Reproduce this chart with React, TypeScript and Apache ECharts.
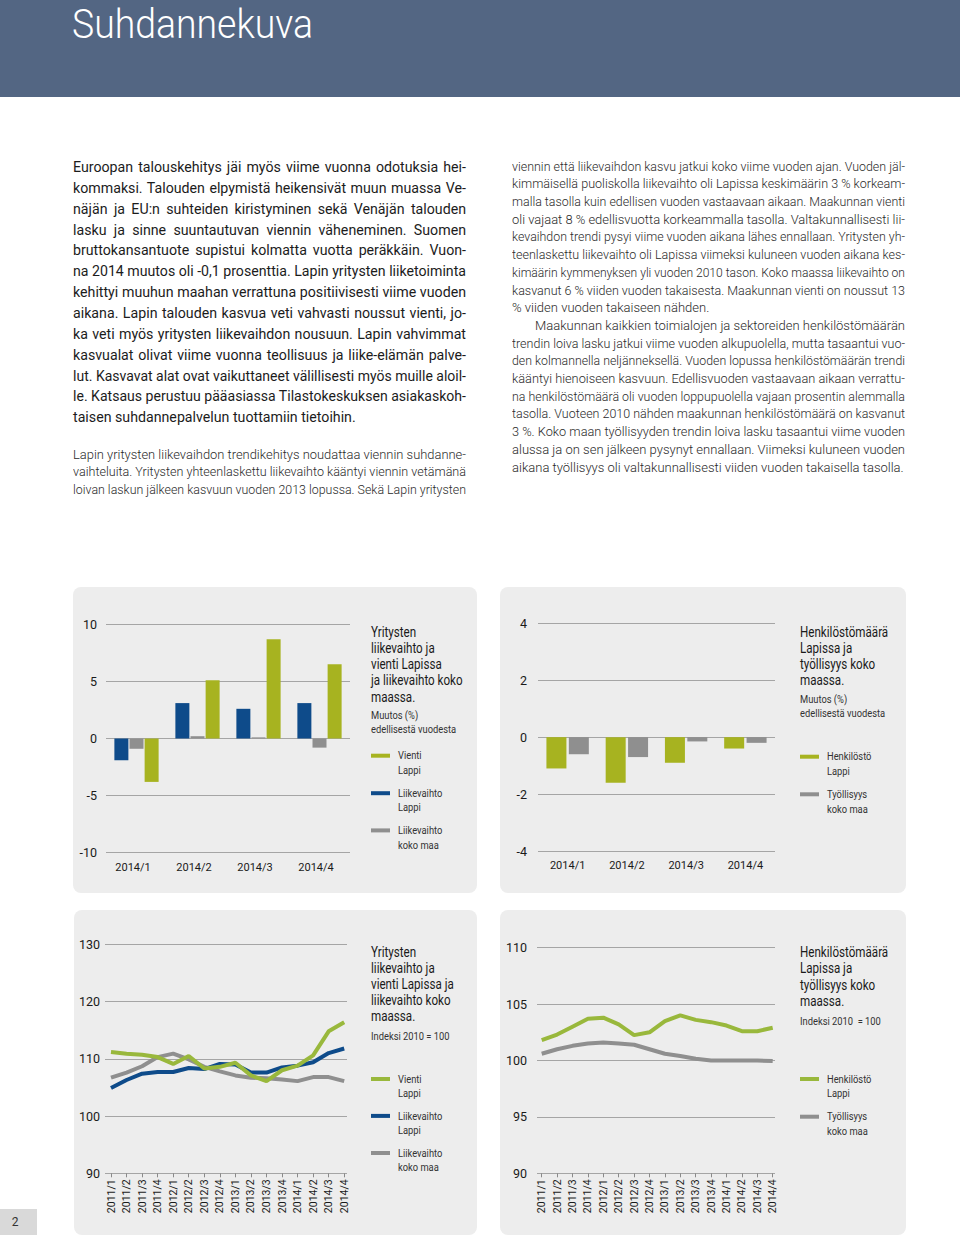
import React, { useEffect, useLayoutEffect, useRef, useState } from 'react';
import * as echarts from 'echarts';

const FONT = "Roboto, 'Liberation Sans', sans-serif";

// ---------- data ----------
const barCategories = ['2014/1', '2014/2', '2014/3', '2014/4'];
const vientiLappiMuutos = [-3.8, 5.1, 8.7, 6.5];
const liikevaihtoLappiMuutos = [-1.9, 3.1, 2.6, 3.1];
const liikevaihtoKokoMaaMuutos = [-0.9, 0.2, 0.1, -0.8];
const henkilostoLappiMuutos = [-1.1, -1.6, -0.9, -0.4];
const tyollisyysKokoMaaMuutos = [-0.6, -0.7, -0.15, -0.2];

const quarters = [
  '2011/1', '2011/2', '2011/3', '2011/4',
  '2012/1', '2012/2', '2012/3', '2012/4',
  '2013/1', '2013/2', '2013/3', '2013/4',
  '2014/1', '2014/2', '2014/3', '2014/4',
];
const vientiLappiIndeksi = [111.2, 110.9, 110.7, 110.3, 109.1, 110.5, 108.3, 108.6, 109.3, 107.1, 106.1, 108.0, 108.8, 110.6, 114.8, 116.4];
const liikevaihtoLappiIndeksi = [104.9, 106.3, 107.4, 107.7, 107.7, 108.4, 108.2, 109.1, 109.0, 107.6, 107.6, 108.5, 108.8, 109.4, 111.0, 111.8];
const liikevaihtoKokoMaaIndeksi = [106.7, 107.6, 108.7, 110.3, 110.9, 109.9, 108.6, 107.8, 107.1, 106.7, 106.6, 106.4, 106.1, 106.8, 106.8, 106.1];
const henkilostoLappiIndeksi = [101.8, 102.3, 103.0, 103.7, 103.8, 103.2, 102.25, 102.5, 103.5, 104.0, 103.6, 103.4, 103.1, 102.6, 102.6, 102.9];
const tyollisyysKokoMaaIndeksi = [100.6, 101.0, 101.3, 101.5, 101.6, 101.5, 101.4, 101.0, 100.6, 100.4, 100.15, 100.0, 100.0, 100.0, 100.0, 99.95];

// axis ranges [min, max, interval]
const axisTopLeft = [-10, 10, 5];
const axisTopRight = [-4, 4, 2];
const axisBottomLeft = [90, 130, 10];
const axisBottomRight = [90, 110, 5];

// ---------- texts ----------
const titleTopLeft = 'Yritysten\nliikevaihto ja\nvienti Lapissa\nja liikevaihto koko\nmaassa.';
const subTopLeft = 'Muutos (%)\nedellisestä vuodesta';
const titleTopRight = 'Henkilöstömäärä\nLapissa ja\ntyöllisyys koko\nmaassa.';
const subTopRight = 'Muutos (%)\nedellisestä vuodesta';
const titleBottomLeft = 'Yritysten\nliikevaihto ja\nvienti Lapissa ja\nliikevaihto koko\nmaassa.';
const subBottomLeft = 'Indeksi 2010 = 100';
const titleBottomRight = 'Henkilöstömäärä\nLapissa ja\ntyöllisyys koko\nmaassa.';
const subBottomRight = 'Indeksi 2010  = 100';

const leftPara1 = [
  'Euroopan talouskehitys jäi myös viime vuonna odotuksia hei-',
  'kommaksi. Talouden elpymistä heikensivät muun muassa Ve-',
  'näjän ja EU:n suhteiden kiristyminen sekä Venäjän talouden',
  'lasku ja sinne suuntautuvan viennin väheneminen. Suomen',
  'bruttokansantuote supistui kolmatta vuotta peräkkäin. Vuon-',
  'na 2014 muutos oli -0,1 prosenttia. Lapin yritysten liiketoiminta',
  'kehittyi muuhun maahan verrattuna positiivisesti viime vuoden',
  'aikana. Lapin talouden kasvua veti vahvasti noussut vienti, jo-',
  'ka veti myös yritysten liikevaihdon nousuun. Lapin vahvimmat',
  'kasvualat olivat viime vuonna teollisuus ja liike-elämän palve-',
  'lut. Kasvavat alat ovat vaikuttaneet välillisesti myös muille aloil-',
  'le. Katsaus perustuu pääasiassa Tilastokeskuksen asiakaskoh-',
  'taisen suhdannepalvelun tuottamiin tietoihin.',
];
const leftPara2 = [
  'Lapin yritysten liikevaihdon trendikehitys noudattaa viennin suhdanne-',
  'vaihteluita. Yritysten yhteenlaskettu liikevaihto kääntyi viennin vetämänä',
  'loivan laskun jälkeen kasvuun vuoden 2013 lopussa. Sekä Lapin yritysten',
];
const rightPara1 = [
  'viennin että liikevaihdon kasvu jatkui koko viime vuoden ajan. Vuoden jäl-',
  'kimmäisellä puoliskolla liikevaihto oli Lapissa keskimäärin 3 % korkeam-',
  'malla tasolla kuin edellisen vuoden vastaavaan aikaan. Maakunnan vienti',
  'oli vajaat 8 % edellisvuotta korkeammalla tasolla. Valtakunnallisesti lii-',
  'kevaihdon trendi pysyi viime vuoden aikana lähes ennallaan. Yritysten yh-',
  'teenlaskettu liikevaihto oli Lapissa viimeksi kuluneen vuoden aikana kes-',
  'kimäärin kymmenyksen yli vuoden 2010 tason. Koko maassa liikevaihto on',
  'kasvanut 6 % viiden vuoden takaisesta. Maakunnan vienti on noussut 13',
  '% viiden vuoden takaiseen nähden.',
];
const rightPara2 = [
  'Maakunnan kaikkien toimialojen ja sektoreiden henkilöstömäärän',
  'trendin loiva lasku jatkui viime vuoden alkupuolella, mutta tasaantui vuo-',
  'den kolmannella neljänneksellä. Vuoden lopussa henkilöstömäärän trendi',
  'kääntyi hienoiseen kasvuun. Edellisvuoden vastaavaan aikaan verrattu-',
  'na henkilöstömäärä oli vuoden loppupuolella vajaan prosentin alemmalla',
  'tasolla. Vuoteen 2010 nähden maakunnan henkilöstömäärä on kasvanut',
  '3 %. Koko maan työllisyyden trendin loiva lasku tasaantui viime vuoden',
  'alussa ja on sen jälkeen pysynyt ennallaan. Viimeksi kuluneen vuoden',
  'aikana työllisyys oli valtakunnallisesti viiden vuoden takaisella tasolla.',
];

// ---------- colours ----------
const GREEN_BAR = '#a7b320';
const GREEN_LINE = '#99b83c';
const BLUE = '#0e4b8a';
const GRAY = '#8f8f8f';
const GRID_LINE = '#a5a5a5';
const PANEL = '#ededed';
const HEADER = '#536683';

type LineProps = {
  text: string; x: number; y: number; width: number; justify: boolean; baseScale: number;
  fontSize: number; color: string; weight?: number; lineHeight: number; tick: number;
};

function TextLine({ text, x, y, width, justify, baseScale, fontSize, color, weight = 400, lineHeight, tick }: LineProps) {
  const ref = useRef<HTMLSpanElement>(null);
  useLayoutEffect(() => {
    const el = ref.current;
    if (!el) return;
    el.style.wordSpacing = '0px';
    el.style.transform = 'none';
    const w = el.getBoundingClientRect().width;
    const spaces = (text.match(/ /g) || []).length;
    if (w * baseScale > width) {
      el.style.transform = `scaleX(${width / w})`;
    } else {
      el.style.transform = `scaleX(${baseScale})`;
      if (justify && spaces > 0) el.style.wordSpacing = `${(width / baseScale - w) / spaces}px`;
    }
  }, [text, width, justify, baseScale, tick]);
  return (
    <div
      style={{
        position: 'absolute', left: x, top: y - lineHeight / 2, height: lineHeight,
        lineHeight: `${lineHeight}px`, whiteSpace: 'pre', fontFamily: FONT, fontSize,
        color, fontWeight: weight,
      }}
    >
      <span ref={ref} style={{ display: 'inline-block', transformOrigin: '0 50%' }}>{text}</span>
    </div>
  );
}

function Paragraph({ lines, x, y0, step, width, fontSize, color, weight, indent = 0, baseScale, tick }: any) {
  return (
    <>
      {lines.map((t: string, i: number) => {
        const ind = i === 0 ? indent : 0;
        return (
          <TextLine
            key={i} text={t} x={x + ind} y={y0 + i * step} width={width - ind}
            justify={i < lines.length - 1} baseScale={baseScale} fontSize={fontSize} color={color}
            weight={weight} lineHeight={step} tick={tick}
          />
        );
      })}
    </>
  );
}

function textEl(text: string, x: number, top: number, fontSize: number, lineHeight: number, fill: string, scaleX: number) {
  return {
    type: 'text', z: 10, x, y: top, scaleX,
    style: { text, x: 0, y: 0, fill, fontSize, fontFamily: FONT, lineHeight, align: 'left', verticalAlign: 'top' },
  };
}

function legendEls(iconX: number, textX: number, centers: number[], items: { label: string; color: string }[]) {
  const out: any[] = [];
  items.forEach((it, i) => {
    out.push({ type: 'rect', z: 10, shape: { x: iconX, y: centers[i] - 2, width: 19, height: 4 }, style: { fill: it.color } });
    out.push(textEl(it.label, textX, centers[i] - 7.25, 11, 14.5, '#333', 0.85));
  });
  return out;
}

function App() {
  const chartRef = useRef<HTMLDivElement>(null);
  const [tick, setTick] = useState(0);

  useEffect(() => {
    const d: any = document;
    if (d.fonts && d.fonts.ready) d.fonts.ready.then(() => setTick((t) => t + 1));
  }, []);

  useEffect(() => {
    if (!chartRef.current) return;
    const chart = echarts.init(chartRef.current, undefined, { renderer: 'svg' });
    const yLabel = (margin: number) => ({ fontSize: 12.5, color: '#1a1a1a', fontFamily: FONT, margin });
    const split = { show: true, lineStyle: { color: GRID_LINE, width: 1 } };

    const valueAxis = (gridIndex: number, r: number[], show: boolean, margin: number) => ({
      type: 'value', gridIndex, min: r[0], max: r[1], interval: r[2], show,
      axisLine: { show: false }, axisTick: { show: false },
      axisLabel: yLabel(margin), splitLine: show ? split : { show: false },
    });

    const barX = (gridIndex: number, padRight: number) => ({
      type: 'category', gridIndex, data: barCategories, boundaryGap: true,
      axisLine: { show: false }, axisTick: { show: false },
      axisLabel: { fontSize: 11, color: '#1a1a1a', fontFamily: FONT, margin: 9, padding: [0, padRight, 0, 0] },
    });
    const lineX = (gridIndex: number) => ({
      type: 'category', gridIndex, data: quarters, boundaryGap: false,
      axisLine: { show: false },
      axisTick: { show: true, length: 4, interval: 0, lineStyle: { color: '#8a8a8a' } },
      axisLabel: { rotate: 90, interval: 0, fontSize: 10.5, color: '#1a1a1a', fontFamily: FONT, margin: 6 },
    });
    const hiddenX = (gridIndex: number) => ({ type: 'value', gridIndex, min: 0, max: 1, show: false });

    const lineSeries = (name: string, data: number[], color: string, axis: number) => ({
      type: 'line', name, data, xAxisIndex: axis, yAxisIndex: axis, showSymbol: false, symbol: 'none',
      lineStyle: { width: 4, color }, itemStyle: { color }, z: 3,
    });

    const TS = 0.83;
    const graphic: any[] = [
      { type: 'rect', z: -10, shape: { x: 73, y: 587, width: 404, height: 306, r: 8 }, style: { fill: PANEL } },
      { type: 'rect', z: -10, shape: { x: 500, y: 587, width: 406, height: 306, r: 8 }, style: { fill: PANEL } },
      { type: 'rect', z: -10, shape: { x: 74, y: 910, width: 403, height: 325, r: 8 }, style: { fill: PANEL } },
      { type: 'rect', z: -10, shape: { x: 500, y: 910, width: 406, height: 325, r: 8 }, style: { fill: PANEL } },
      { type: 'rect', z: -10, shape: { x: 0, y: 1209, width: 37, height: 26 }, style: { fill: '#d9d9d9' } },
      { type: 'text', z: 10, style: { text: '2', x: 15, y: 1222, fill: '#333', fontSize: 12, fontFamily: FONT, align: 'center', verticalAlign: 'middle' } },
      textEl(titleTopLeft, 371, 623.5, 14, 16.25, '#1a1a1a', TS),
      textEl(subTopLeft, 371, 708, 11, 14, '#333', 0.85),
      ...legendEls(371, 398, [755.7, 793.2, 830.4], [
        { label: 'Vienti\nLappi', color: GREEN_BAR },
        { label: 'Liikevaihto\nLappi', color: BLUE },
        { label: 'Liikevaihto\nkoko maa', color: GRAY },
      ]),
      textEl(titleTopRight, 800, 623.5, 14, 16.25, '#1a1a1a', TS),
      textEl(subTopRight, 800, 692.3, 11, 14, '#333', 0.85),
      ...legendEls(800, 827, [756.7, 794.3], [
        { label: 'Henkilöstö\nLappi', color: GREEN_BAR },
        { label: 'Työllisyys\nkoko maa', color: GRAY },
      ]),
      textEl(titleBottomLeft, 371, 943.7, 14, 16.1, '#1a1a1a', TS),
      textEl(subBottomLeft, 371, 1029, 11, 14, '#333', 0.85),
      ...legendEls(371, 398, [1079, 1115.9, 1153], [
        { label: 'Vienti\nLappi', color: GREEN_LINE },
        { label: 'Liikevaihto\nLappi', color: BLUE },
        { label: 'Liikevaihto\nkoko maa', color: GRAY },
      ]),
      textEl(titleBottomRight, 800, 943.7, 14, 16.5, '#1a1a1a', TS),
      textEl(subBottomRight, 800, 1014, 11, 14, '#333', 0.85),
      ...legendEls(800, 827, [1079, 1116.7], [
        { label: 'Henkilöstö\nLappi', color: GREEN_LINE },
        { label: 'Työllisyys\nkoko maa', color: GRAY },
      ]),
    ];

    chart.setOption({
      animation: false,
      textStyle: { fontFamily: FONT },
      grid: [
        { left: 106, top: 624.3, width: 244, height: 228.4 },
        { left: 538, top: 623.3, width: 237, height: 227.7 },
        { left: 105, top: 944.3, width: 242, height: 229 },
        { left: 111, top: 944.3, width: 233.2, height: 229 },
        { left: 537, top: 947.7, width: 238, height: 225.6 },
        { left: 541.7, top: 947.7, width: 231, height: 225.6 },
      ],
      xAxis: [barX(0, 7), barX(1, 0), hiddenX(2), lineX(3), hiddenX(4), lineX(5)],
      yAxis: [
        valueAxis(0, axisTopLeft, true, 9),
        valueAxis(1, axisTopRight, true, 11),
        valueAxis(2, axisBottomLeft, true, 5),
        valueAxis(3, axisBottomLeft, false, 5),
        valueAxis(4, axisBottomRight, true, 10),
        valueAxis(5, axisBottomRight, false, 10),
      ],
      series: [
        { type: 'bar', name: 'Liikevaihto Lappi', xAxisIndex: 0, yAxisIndex: 0, data: liikevaihtoLappiMuutos, barWidth: 14, barGap: '8%', itemStyle: { color: BLUE } },
        { type: 'bar', name: 'Liikevaihto koko maa', xAxisIndex: 0, yAxisIndex: 0, data: liikevaihtoKokoMaaMuutos, barWidth: 14, barGap: '8%', itemStyle: { color: GRAY } },
        { type: 'bar', name: 'Vienti Lappi', xAxisIndex: 0, yAxisIndex: 0, data: vientiLappiMuutos, barWidth: 14, barGap: '8%', itemStyle: { color: GREEN_BAR } },
        { type: 'bar', name: 'Henkilöstö Lappi', xAxisIndex: 1, yAxisIndex: 1, data: henkilostoLappiMuutos, barWidth: 20, barGap: '12%', itemStyle: { color: GREEN_BAR } },
        { type: 'bar', name: 'Työllisyys koko maa', xAxisIndex: 1, yAxisIndex: 1, data: tyollisyysKokoMaaMuutos, barWidth: 20, barGap: '12%', itemStyle: { color: GRAY } },
        lineSeries('Liikevaihto koko maa', liikevaihtoKokoMaaIndeksi, GRAY, 3),
        lineSeries('Liikevaihto Lappi', liikevaihtoLappiIndeksi, BLUE, 3),
        lineSeries('Vienti Lappi', vientiLappiIndeksi, GREEN_LINE, 3),
        lineSeries('Työllisyys koko maa', tyollisyysKokoMaaIndeksi, GRAY, 5),
        lineSeries('Henkilöstö Lappi', henkilostoLappiIndeksi, GREEN_LINE, 5),
      ],
      graphic,
    });
    return () => chart.dispose();
  }, []);

  return (
    <div style={{ position: 'absolute', left: 0, top: 0, width: 960, height: 1239, background: '#fff', overflow: 'hidden' }}>
      <div ref={chartRef} style={{ position: 'absolute', left: 0, top: 0, width: 960, height: 1239 }} />
      <div style={{ position: 'absolute', left: 0, top: 0, width: 960, height: 97, background: HEADER }} />
      <TextLine text="Suhdannekuva" x={72} y={24.5} width={241} justify={false} baseScale={1.0} fontSize={40} color="#ffffff" weight={300} lineHeight={48} tick={tick} />
      <Paragraph lines={leftPara1} x={73} y0={167.5} step={20.85} width={393} fontSize={14.2} color="#1c1c1c" weight={400} baseScale={1.0} tick={tick} />
      <Paragraph lines={leftPara2} x={73} y0={454.5} step={17.6} width={393} fontSize={13} color="#2a2a2a" weight={300} baseScale={1.0} tick={tick} />
      <Paragraph lines={rightPara1} x={512} y0={166.5} step={17.7} width={393} fontSize={13} color="#2a2a2a" weight={300} baseScale={1.0} tick={tick} />
      <Paragraph lines={rightPara2} x={512} y0={166.5 + 9 * 17.7} step={17.7} width={393} fontSize={13} color="#2a2a2a" weight={300} indent={23} baseScale={1.0} tick={tick} />
    </div>
  );
}

export default App;
